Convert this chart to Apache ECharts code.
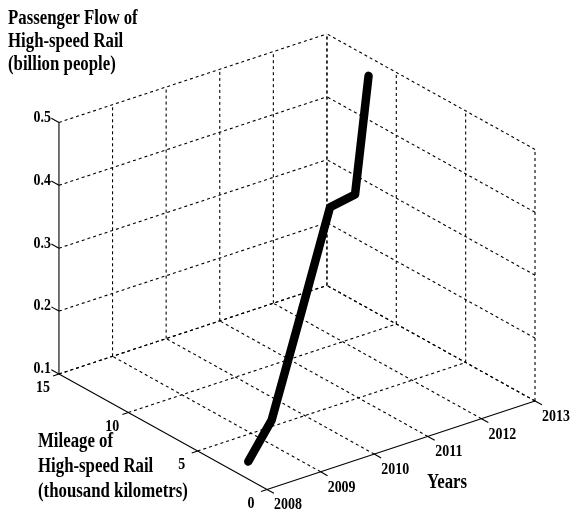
<!DOCTYPE html>
<html><head><meta charset="utf-8">
<script src="https://cdn.jsdelivr.net/npm/echarts@6/dist/echarts.min.js"></script>
<style>html,body{margin:0;padding:0;background:#fff}#chart{width:574px;height:510px}</style>
</head><body><div id="chart"></div>
<script>
// China high-speed rail by year: network mileage and passenger flow
const years = [2008, 2009, 2010, 2011, 2012, 2013];
const mileage = [1.35, 3.53, 5.47, 7.05, 9.11, 12.0];              // thousand km
const passengerFlow = [0.128, 0.139, 0.241, 0.378, 0.345, 0.470];  // billion people

const yearTicks = [2008, 2009, 2010, 2011, 2012, 2013];
const mileageTicks = [0, 5, 10, 15];
const flowTicks = [0.1, 0.2, 0.3, 0.4, 0.5];
const flowTickLabels = ['0.1', '0.2', '0.3', '0.4', '0.5'];

const flowTitle = ['Passenger Flow of', 'High-speed Rail', '(billion people)'];
const mileageTitle = ['Mileage of', 'High-speed Rail', '(thousand kilometrs)'];
const yearsTitle = 'Years';

// box limits
const X0 = 2008, X1 = 2013, Y0 = 0, Y1 = 15, Z0 = 0.1, Z1 = 0.5;

// oblique view: plane position of the box origin and the step per unit along each axis
const view = { ox: 267, oy: 489.5, yr: [53.6, -17.7], km: [-13.87, -7.7], fl: [0, -629] };
function proj(x, y, z) {
  const a = x - X0, b = y - Y0, c = z - Z0;
  return [view.ox + a * view.yr[0] + b * view.km[0] + c * view.fl[0],
          view.oy + a * view.yr[1] + b * view.km[1] + c * view.fl[1]];
}
function seg(p, q) { return proj(p[0], p[1], p[2]).concat(proj(q[0], q[1], q[2])); }

// dotted grid on the two back walls and the floor
const gridSegs = [];
yearTicks.forEach(x => { if (x !== X0) gridSegs.push(seg([x, Y1, Z0], [x, Y1, Z1])); });
flowTicks.forEach(z => gridSegs.push(seg([X0, Y1, z], [X1, Y1, z])));
mileageTicks.forEach(m => gridSegs.push(seg([X1, m, Z0], [X1, m, Z1])));
flowTicks.forEach(z => gridSegs.push(seg([X1, Y0, z], [X1, Y1, z])));
yearTicks.forEach(x => { if (x !== X0) gridSegs.push(seg([x, Y0, Z0], [x, Y1, Z0])); });
mileageTicks.forEach(m => { if (m !== Y0) gridSegs.push(seg([X0, m, Z0], [X1, m, Z0])); });

// solid axis lines and their ticks
const axisSegs = [
  seg([X0, Y0, Z0], [X1, Y0, Z0]),
  seg([X0, Y0, Z0], [X0, Y1, Z0]),
  seg([X0, Y1, Z0], [X0, Y1, Z1])
];
yearTicks.forEach(x => axisSegs.push(seg([x, Y0, Z0], [x, Y0 - 0.5, Z0])));
mileageTicks.forEach(m => axisSegs.push(seg([X0, m, Z0], [X0 - 0.11, m, Z0])));
flowTicks.forEach(z => axisSegs.push(seg([X0, Y1, z], [X0, Y1 + 0.55, z])));

// tick labels anchored at the projected tick positions
const tickLabels = [];
yearTicks.forEach(x => tickLabels.push(proj(x, Y0, Z0).concat([String(x), 21, 15.5, 'center'])));
mileageTicks.forEach(m => tickLabels.push(proj(X0, m, Z0).concat([String(m), -16, 14, 'center'])));
flowTicks.forEach((z, i) => tickLabels.push(proj(X0, Y1, z).concat([flowTickLabels[i], -8, -5, 'right'])));

const FONT = '"Liberation Serif", "Times New Roman", serif';

function segRender(dash, width, color) {
  return function (params, api) {
    const p = api.coord([api.value(0), api.value(1)]);
    const q = api.coord([api.value(2), api.value(3)]);
    return {
      type: 'line',
      shape: { x1: p[0], y1: p[1], x2: q[0], y2: q[1] },
      style: { stroke: color, lineWidth: width, lineDash: dash, fill: null }
    };
  };
}

const chart = echarts.init(document.getElementById('chart'), null, { renderer: 'canvas' });

function titleBlock(lines, left, top, gap) {
  return lines.map((t, i) => ({
    type: 'text', x: left, y: top + i * gap, scaleX: 0.84,
    style: { text: t, font: 'bold 20px ' + FONT, fill: '#000', align: 'left', verticalAlign: 'middle' }
  }));
}

chart.setOption({
  animation: false,
  backgroundColor: '#fff',
  grid: { left: 0, right: 0, top: 0, bottom: 0 },
  xAxis: { type: 'value', min: 0, max: 574, show: false },
  yAxis: { type: 'value', min: 0, max: 510, inverse: true, show: false },
  graphic: [].concat(
    titleBlock(flowTitle, 8, 18.5, 23.3),
    titleBlock(mileageTitle, 38, 442, 24.7),
    [{
      type: 'text', x: 447, y: 483, scaleX: 0.84,
      style: { text: yearsTitle, font: 'bold 20px ' + FONT, fill: '#000', align: 'center', verticalAlign: 'middle' }
    }]
  ),
  series: [
    {
      type: 'custom', silent: true, z: 1,
      data: gridSegs, encode: { x: [0, 2], y: [1, 3] },
      renderItem: segRender([3, 3], 1.1, '#000')
    },
    {
      type: 'custom', silent: true, z: 2,
      data: axisSegs, encode: { x: [0, 2], y: [1, 3] },
      renderItem: segRender(null, 1.1, '#000')
    },
    {
      type: 'custom', silent: true, z: 3,
      data: tickLabels, encode: { x: 0, y: 1 },
      renderItem: function (params, api) {
        const d = tickLabels[params.dataIndex];
        const p = api.coord([d[0], d[1]]);
        return {
          type: 'text', x: p[0] + d[3], y: p[1] + d[4], scaleX: 0.82,
          style: { text: d[2], font: 'bold 17px ' + FONT, fill: '#000', align: d[5], verticalAlign: 'middle' }
        };
      }
    },
    {
      type: 'line', silent: true, z: 10,
      data: years.map((yr, i) => proj(yr, mileage[i], passengerFlow[i])),
      showSymbol: false,
      lineStyle: { color: '#000', width: 8.5, cap: 'round', join: 'round' }
    }
  ]
});
</script>
</body></html>
